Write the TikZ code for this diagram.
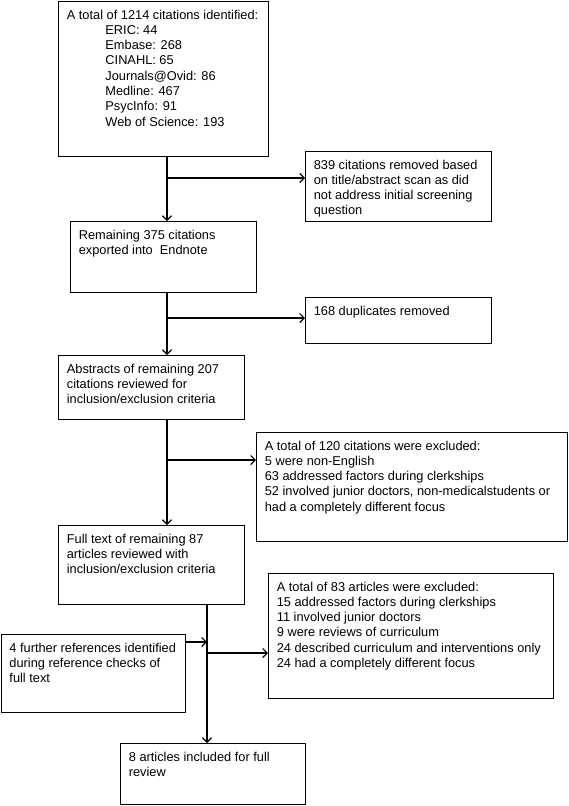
\documentclass[tikz,border=0pt]{standalone}
\usepackage{fontspec}
\setmainfont{Liberation Sans}
\usetikzlibrary{arrows.meta}
\newcommand{\firstln}{\rule{0pt}{17.5pt}}
\newcommand{\ind}{\hspace*{38.6pt}}
\tikzset{
  box/.style={draw=black, line width=1.1pt, anchor=north west, inner xsep=8.3pt, inner ysep=0pt,
    font=\fontsize{12.8pt}{15.3pt}\selectfont, text=black},
  arr/.style={line width=1.1pt, -{Straight Barb[length=4.5pt,width=9pt,line width=1.1pt]}},
  ln/.style={line width=1.1pt}
}
\begin{document}
\begin{tikzpicture}[x=1pt,y=-1pt]
\useasboundingbox (0,0) rectangle (568,806);
% boxes (x,y of top-left; width; height)
\node[box] (b1) at (58,1) {\parbox[t][155pt][t]{193.4pt}{\raggedright\firstln A total of 1214 citations identified:\\
\ind ERIC: 44\\
\ind Embase: 268\\
\ind CINAHL: 65\\
\ind Journals@Ovid: 86\\
\ind Medline: 467\\
\ind PsycInfo: 91\\
\ind Web of Science: 193}};
\node[box] (b2) at (305,151) {\parbox[t][70pt][t]{169.4pt}{\raggedright\firstln 839 citations removed based\\
on title/abstract scan as did\\
not address initial screening\\
question}};
\node[box] (b3) at (70,221) {\parbox[t][71pt][t]{169.4pt}{\raggedright\firstln Remaining 375 citations\\
exported into\ \ Endnote}};
\node[box] (b4) at (305,297) {\parbox[t][46pt][t]{169.4pt}{\raggedright\firstln 168 duplicates removed}};
\node[box] (b5) at (58,355) {\parbox[t][64pt][t]{169.4pt}{\raggedright\firstln Abstracts of remaining 207\\
citations reviewed for\\
inclusion/exclusion criteria}};
\node[box] (b6) at (256,432) {\parbox[t][109pt][t]{294.4pt}{\raggedright\firstln A total of 120 citations were excluded:\\
5 were non-English\\
63 addressed factors during clerkships\\
52 involved junior doctors, non-medicalstudents or\\
had a completely different focus}};
\node[box] (b7) at (58,525) {\parbox[t][79pt][t]{169.4pt}{\raggedright\firstln Full text of remaining 87\\
articles reviewed with\\
inclusion/exclusion criteria}};
\node[box] (b8) at (268,573) {\parbox[t][125pt][t]{268.4pt}{\raggedright\firstln A total of 83 articles were excluded:\\
15 addressed factors during clerkships\\
11 involved junior doctors\\
9 were reviews of curriculum\\
24 described curriculum and interventions only\\
24 had a completely different focus}};
\node[box] (b9) at (0.6,634) {\parbox[t][78pt][t]{167.8pt}{\raggedright\firstln 4 further references identified\\
during reference checks of\\
full text}};
\node[box] (b10) at (120,743) {\parbox[t][61pt][t]{168.4pt}{\raggedright\firstln 8 articles included for full\\
review}};
% junctions
\coordinate (j1) at (167,178);
\coordinate (j2) at (167,318);
\coordinate (j3) at (167,460);
\coordinate (j4) at (207,642);
\coordinate (j5) at (207,653);
% connectors
\draw[arr] (b1.south -| j1) -- (b3.north -| j1);
\draw[arr] (j1) -- (b2.west |- j1);
\draw[arr] (b3.south -| j2) -- (b5.north -| j2);
\draw[arr] (j2) -- (b4.west |- j2);
\draw[arr] (b5.south -| j3) -- (b7.north -| j3);
\draw[arr] (j3) -- (b6.west |- j3);
\draw[arr] (b7.south -| j5) -- (b10.north -| j5);
\draw[arr] (j5) -- (b8.west |- j5);
\draw[arr] (b9.east |- j4) -- (j4);
\end{tikzpicture}
\end{document}
